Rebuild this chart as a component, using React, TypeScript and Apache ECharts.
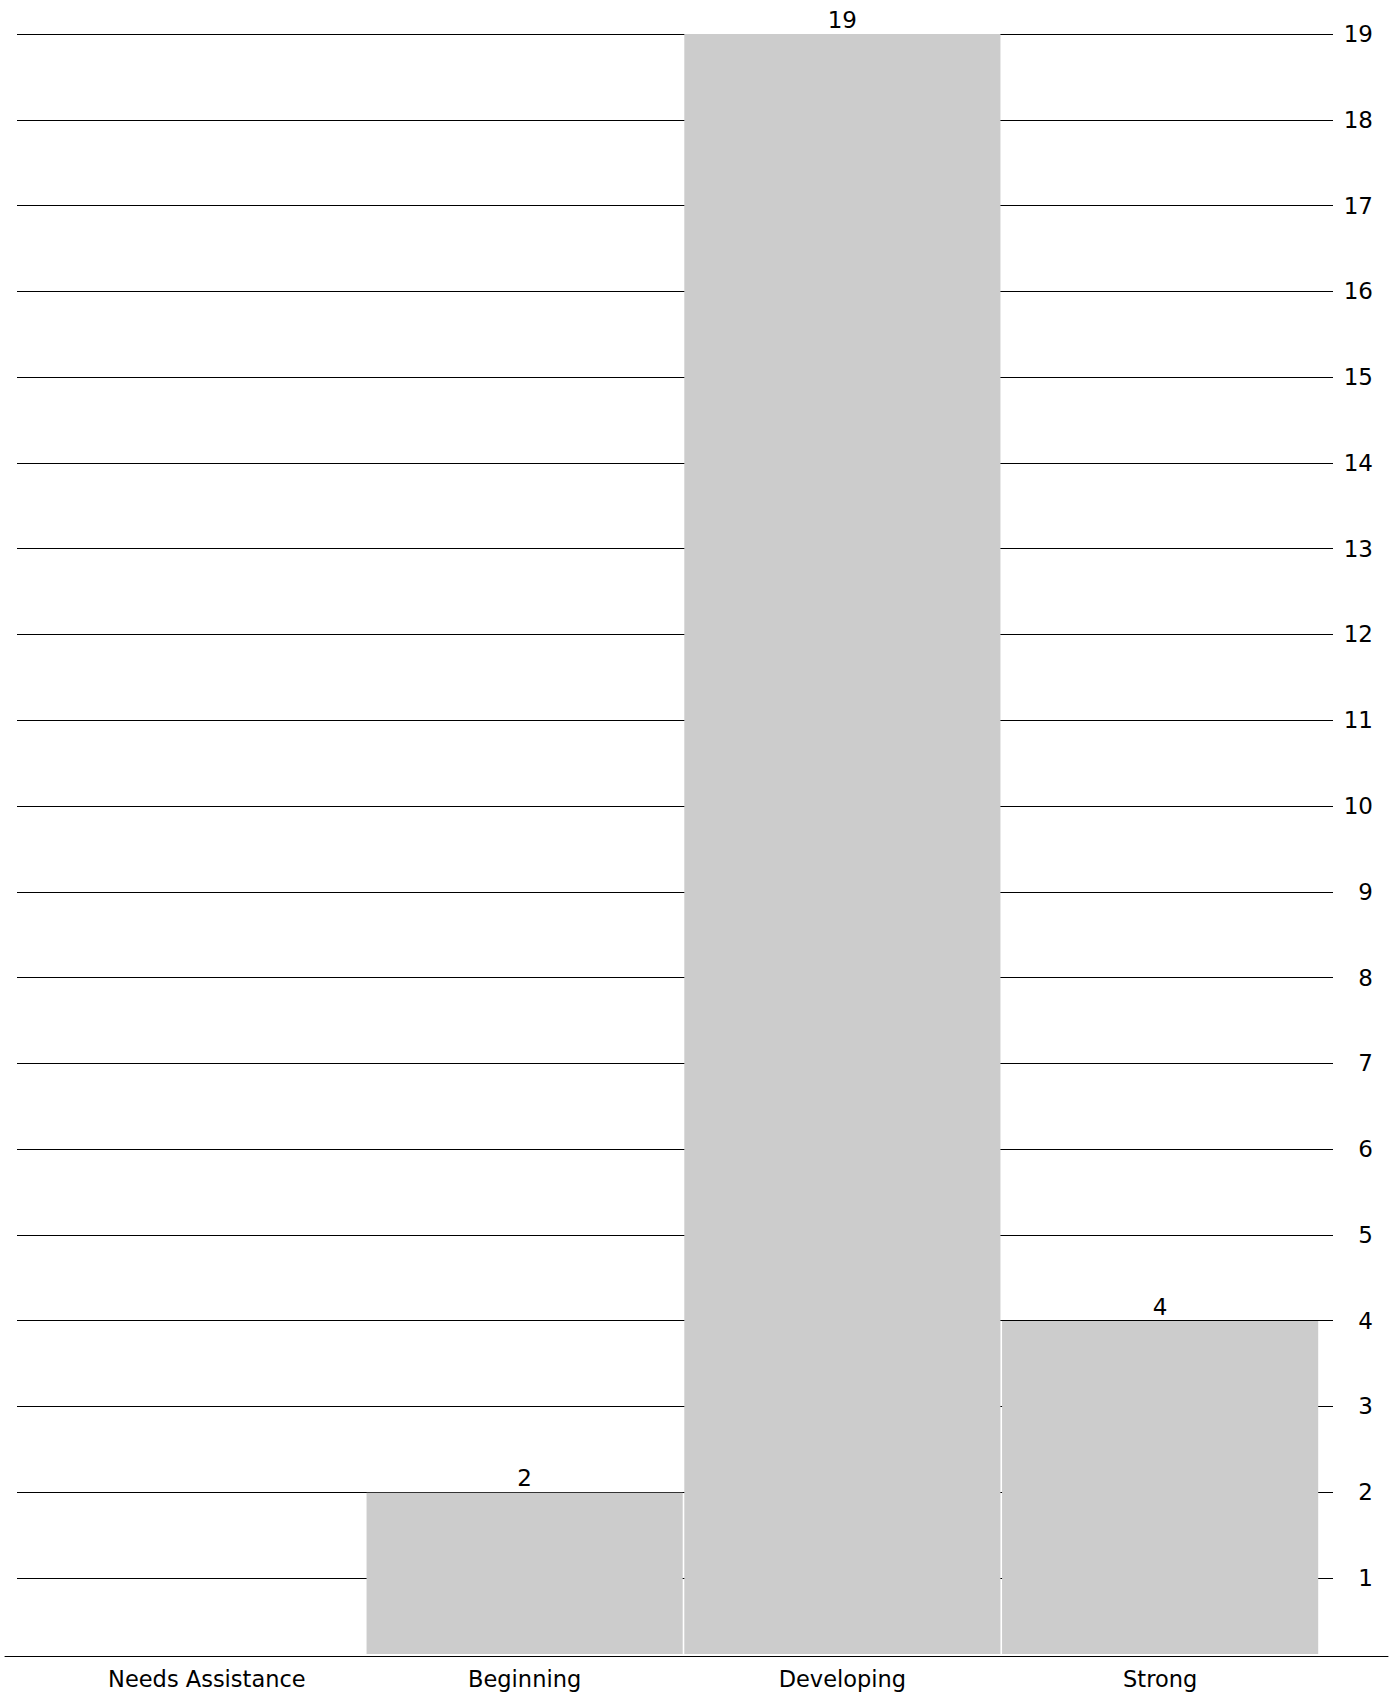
import React, { useEffect, useRef } from "react";
import * as echarts from "echarts";

const categories = ["Needs Assistance", "Beginning", "Developing", "Strong"];
const counts = [0, 2, 19, 4];
const tickMin = 1;
const tickMax = 19;

const FONT = "DejaVu Sans";

export default function App() {
  const ref = useRef<HTMLDivElement>(null);
  useEffect(() => {
    if (!ref.current) return;
    const chart = echarts.init(ref.current, null, { renderer: "svg" });
    chart.setOption({
      animation: false,
      backgroundColor: "#ffffff",
      grid: [
        { left: 17, right: 62, top: 34, bottom: 119 },
        { left: 48, right: 76, top: 34, bottom: 43 },
        { left: 5, right: 7, top: 34, bottom: 41 },
      ],
      xAxis: [
        { gridIndex: 0, type: "value", show: false },
        {
          gridIndex: 1,
          type: "category",
          data: categories,
          axisLine: { show: false },
          axisTick: { show: false },
          axisLabel: { margin: 13, color: "#000", fontSize: 22.5, fontFamily: FONT, interval: 0 },
        },
        {
          gridIndex: 2,
          type: "category",
          data: [""],
          axisLine: { show: true, lineStyle: { color: "#000", width: 1 } },
          axisTick: { show: false },
          axisLabel: { show: false },
        },
      ],
      yAxis: [
        {
          gridIndex: 0,
          type: "value",
          min: tickMin,
          max: tickMax,
          interval: 1,
          position: "right",
          axisLine: { show: false },
          axisTick: { show: false },
          splitLine: { show: true, lineStyle: { color: "#000", width: 1 } },
          axisLabel: { align: "right", margin: 40, fontSize: 23, color: "#000", fontFamily: FONT },
        },
        { gridIndex: 1, type: "value", min: 0.12, max: 19, show: false },
        { gridIndex: 2, type: "value", show: false },
      ],
      series: [
        {
          type: "bar",
          xAxisIndex: 1,
          yAxisIndex: 1,
          data: counts,
          barCategoryGap: "0.5%",
          itemStyle: { color: "#cccccc" },
          label: {
            show: true,
            position: "top",
            distance: 3,
            fontSize: 23,
            color: "#000",
            fontFamily: FONT,
            formatter: (p: any) => (p.value ? String(p.value) : ""),
          },
        },
      ],
    });
    return () => chart.dispose();
  }, []);
  return (
    <div
      ref={ref}
      style={{ position: "absolute", left: 0, top: 0, width: 1395, height: 1697 }}
    />
  );
}
